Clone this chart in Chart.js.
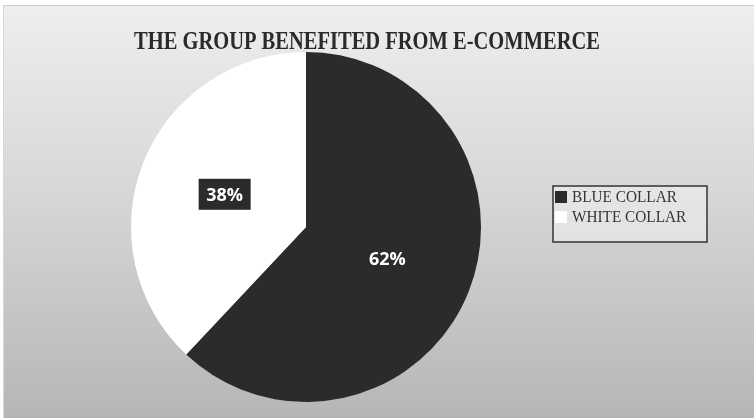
<!DOCTYPE html>
<html>
<head>
<meta charset="utf-8">
<script src="https://cdn.jsdelivr.net/npm/chart.js@4.4.1/dist/chart.umd.min.js"></script>
<style>
  html, body { margin: 0; padding: 0; background: #fff; }
  #wrap { position: relative; width: 754px; height: 418px; overflow: hidden; }
  #frame {
    position: absolute; left: 3px; top: 5px; right: 0; bottom: 0;
    border-top: 1px solid #cfcfcf; border-left: 1px solid #d6d6d6;
    background: linear-gradient(to bottom, #eeeeee 0%, #dadada 40%, #c5c5c5 75%, #b6b6b6 100%);
  }
  #chart { position: absolute; left: 0; top: 0; }
</style>
</head>
<body>
<div id="wrap">
  <div id="frame"></div>
  <canvas id="chart" width="754" height="418"></canvas>
</div>
<script>
const titleText = 'THE GROUP BENEFITED FROM E-COMMERCE';
const groups = ['BLUE COLLAR', 'WHITE COLLAR'];
const shares = [62, 38];
const sliceColors = ['#2b2b2b', '#ffffff'];

// squeeze text horizontally so it fills the given width
function fitText(ctx, text, x, y, width) {
    const w = ctx.measureText(text).width;
    ctx.save();
    ctx.translate(x, y);
    ctx.scale(width / w, 1);
    ctx.fillText(text, 0, 0);
    ctx.restore();
}

// title, percent labels and the boxed legend are painted here
const decorations = {
    id: 'decorations',
    afterDatasetsDraw(chart) {
        const ctx = chart.ctx;
        ctx.save();

        ctx.fillStyle = '#2a2a2a';
        ctx.font = 'bold 25px "Liberation Serif", serif';
        ctx.textAlign = 'center';
        ctx.textBaseline = 'middle';
        fitText(ctx, titleText, 367, 43, 466);

        const meta = chart.getDatasetMeta(0);
        meta.data.forEach((arc, i) => {
            const pos = arc.tooltipPosition();
            const text = shares[i] + '%';
            ctx.font = 'bold 18px "Open Sans", "Liberation Sans", sans-serif';
            if (sliceColors[i] === '#ffffff') {
                ctx.fillStyle = '#2b2b2b';
                ctx.fillRect(pos.x - 26, pos.y - 16, 52, 31);
            }
            ctx.fillStyle = '#ffffff';
            ctx.textAlign = 'center';
            ctx.textBaseline = 'middle';
            ctx.fillText(text, pos.x, pos.y + 1);
        });

        // legend
        const lx = 553, ly = 186, lw = 154, lh = 56;
        ctx.fillStyle = 'rgba(238,238,238,0.6)';
        ctx.fillRect(lx, ly, lw, lh);
        ctx.strokeStyle = '#333';
        ctx.lineWidth = 1.5;
        ctx.strokeRect(lx, ly, lw, lh);
        ctx.font = '17px "Liberation Serif", "DejaVu Serif", serif';
        ctx.textAlign = 'left';
        ctx.textBaseline = 'middle';
        groups.forEach((g, i) => {
            const y = ly + 11 + i * 20;
            ctx.fillStyle = sliceColors[i];
            ctx.fillRect(lx + 2, y - 6, 12, 12);
            ctx.fillStyle = '#353535';
            const w = ctx.measureText(g).width;
            fitText(ctx, g, lx + 19, y + 1, w * 0.9);
        });

        ctx.restore();
    }
};

new Chart(document.getElementById('chart'), {
    type: 'pie',
    data: {
        labels: groups,
        datasets: [{
            data: shares,
            backgroundColor: sliceColors,
            borderWidth: 0
        }]
    },
    options: {
        responsive: false,
        animation: false,
        layout: { padding: { top: 52, bottom: 16, left: 120, right: 262 } },
        plugins: {
            legend: { display: false },
            title: { display: false },
            tooltip: { enabled: false }
        }
    },
    plugins: [decorations]
});
</script>
</body>
</html>
